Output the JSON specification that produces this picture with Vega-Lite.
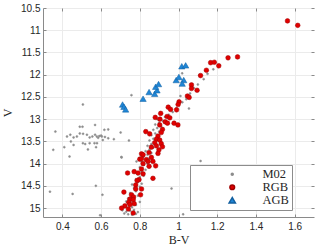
{
  "$schema": "https://vega.github.io/schema/vega-lite/v6.json",
  "width": 271,
  "height": 209,
  "autosize": {"type": "none"},
  "padding": {"left": 43, "top": 8, "right": 3, "bottom": 29},
  "background": "white",
  "config": {
    "view": {"stroke": null},
    "axis": {
      "labelFont": "Liberation Sans",
      "labelFontSize": 10,
      "labelColor": "#262626",
      "titleFont": "Liberation Serif",
      "titleFontSize": 12,
      "titleFontWeight": "normal",
      "titleColor": "#262626",
      "domainColor": "#8a8a8a",
      "tickColor": "#8a8a8a",
      "gridColor": "#ebebeb",
      "tickSize": -3
    }
  },
  "datasets": {
    "pts": [
      {"series":"M02","bv":0.364,"v":13.28},{"series":"M02","bv":0.490,"v":13.17},{"series":"M02","bv":0.504,"v":13.17},{"series":"M02","bv":0.569,"v":13.13},{"series":"M02","bv":0.617,"v":13.24},{"series":"M02","bv":0.637,"v":13.23},{"series":"M02","bv":0.701,"v":13.30},{"series":"M02","bv":0.424,"v":13.39},{"series":"M02","bv":0.441,"v":13.35},{"series":"M02","bv":0.458,"v":13.41},{"series":"M02","bv":0.475,"v":13.39},{"series":"M02","bv":0.490,"v":13.32},{"series":"M02","bv":0.507,"v":13.33},{"series":"M02","bv":0.527,"v":13.35},{"series":"M02","bv":0.541,"v":13.41},{"series":"M02","bv":0.555,"v":13.39},{"series":"M02","bv":0.569,"v":13.35},{"series":"M02","bv":0.578,"v":13.39},{"series":"M02","bv":0.591,"v":13.38},{"series":"M02","bv":0.604,"v":13.39},{"series":"M02","bv":0.609,"v":13.47},{"series":"M02","bv":0.637,"v":13.43},{"series":"M02","bv":0.666,"v":13.45},{"series":"M02","bv":0.444,"v":13.50},{"series":"M02","bv":0.458,"v":13.58},{"series":"M02","bv":0.506,"v":13.54},{"series":"M02","bv":0.518,"v":13.56},{"series":"M02","bv":0.541,"v":13.54},{"series":"M02","bv":0.566,"v":13.54},{"series":"M02","bv":0.579,"v":13.54},{"series":"M02","bv":0.532,"v":13.68},{"series":"M02","bv":0.574,"v":13.63},{"series":"M02","bv":0.410,"v":13.63},{"series":"M02","bv":0.353,"v":13.69},{"series":"M02","bv":0.437,"v":13.84},{"series":"M02","bv":0.705,"v":13.85},{"series":"M02","bv":0.600,"v":13.37},{"series":"M02","bv":0.585,"v":13.42},{"series":"M02","bv":0.620,"v":13.40},
      {"series":"M02","bv":0.336,"v":14.63},{"series":"M02","bv":0.453,"v":14.68},{"series":"M02","bv":0.573,"v":14.50},{"series":"M02","bv":0.607,"v":14.70},{"series":"M02","bv":0.595,"v":15.16},{"series":"M02","bv":0.506,"v":12.67},{"series":"M02","bv":0.757,"v":12.46},{"series":"M02","bv":1.010,"v":12.48},{"series":"M02","bv":1.054,"v":12.76},{"series":"M02","bv":1.019,"v":11.97},{"series":"M02","bv":1.108,"v":12.01},{"series":"M02","bv":1.114,"v":13.94},{"series":"M02","bv":0.964,"v":14.56},{"series":"M02","bv":1.024,"v":15.14},{"series":"M02","bv":0.744,"v":13.48},{"series":"M02","bv":0.706,"v":13.86},{"series":"M02","bv":0.783,"v":13.95},
      {"series":"M02","bv":0.72,"v":15.12},{"series":"M02","bv":0.74,"v":15.14},{"series":"M02","bv":0.76,"v":15.15},{"series":"M02","bv":0.78,"v":15.13},{"series":"M02","bv":0.73,"v":15.08},{"series":"M02","bv":0.75,"v":15.06},{"series":"M02","bv":0.77,"v":15.04},{"series":"M02","bv":0.71,"v":15.05},{"series":"M02","bv":0.79,"v":15.09},{"series":"M02","bv":0.74,"v":15.00},{"series":"M02","bv":0.76,"v":14.98},{"series":"M02","bv":0.72,"v":14.95},{"series":"M02","bv":0.78,"v":14.93},{"series":"M02","bv":0.75,"v":14.88},{"series":"M02","bv":0.73,"v":14.85},{"series":"M02","bv":0.77,"v":14.83},{"series":"M02","bv":0.80,"v":14.86},{"series":"M02","bv":0.74,"v":14.78},{"series":"M02","bv":0.76,"v":14.74},{"series":"M02","bv":0.79,"v":14.72},{"series":"M02","bv":0.75,"v":14.66},{"series":"M02","bv":0.78,"v":14.62},{"series":"M02","bv":0.77,"v":14.55},{"series":"M02","bv":0.80,"v":14.52},{"series":"M02","bv":0.76,"v":14.47},{"series":"M02","bv":0.79,"v":14.42},{"series":"M02","bv":0.81,"v":14.45},{"series":"M02","bv":0.78,"v":14.35},{"series":"M02","bv":0.80,"v":14.30},{"series":"M02","bv":0.82,"v":14.27},{"series":"M02","bv":0.79,"v":14.24},{"series":"M02","bv":0.81,"v":14.17},{"series":"M02","bv":0.83,"v":14.14},{"series":"M02","bv":0.80,"v":14.08},{"series":"M02","bv":0.82,"v":14.03},{"series":"M02","bv":0.84,"v":14.00},{"series":"M02","bv":0.81,"v":13.96},{"series":"M02","bv":0.83,"v":13.92},{"series":"M02","bv":0.85,"v":13.88},{"series":"M02","bv":0.82,"v":13.84},{"series":"M02","bv":0.84,"v":13.80},{"series":"M02","bv":0.86,"v":13.76},{"series":"M02","bv":0.83,"v":13.72},{"series":"M02","bv":0.85,"v":13.68},{"series":"M02","bv":0.87,"v":13.64},{"series":"M02","bv":0.84,"v":13.60},{"series":"M02","bv":0.86,"v":13.56},{"series":"M02","bv":0.88,"v":13.52},{"series":"M02","bv":0.85,"v":13.48},{"series":"M02","bv":0.87,"v":13.44},{"series":"M02","bv":0.89,"v":13.40},{"series":"M02","bv":0.86,"v":13.36},{"series":"M02","bv":0.88,"v":13.32},{"series":"M02","bv":0.90,"v":13.28},{"series":"M02","bv":0.87,"v":13.24},{"series":"M02","bv":0.89,"v":13.20},{"series":"M02","bv":0.91,"v":13.16},{"series":"M02","bv":0.88,"v":13.12},{"series":"M02","bv":0.90,"v":13.08},{"series":"M02","bv":0.92,"v":13.04},{"series":"M02","bv":0.89,"v":13.00},{"series":"M02","bv":0.93,"v":12.95},{"series":"M02","bv":0.95,"v":12.90},{"series":"M02","bv":0.97,"v":12.84},{"series":"M02","bv":0.99,"v":12.75},{"series":"M02","bv":1.02,"v":12.62},{"series":"M02","bv":1.04,"v":12.55},{"series":"M02","bv":1.06,"v":12.42},{"series":"M02","bv":1.08,"v":12.30},{"series":"M02","bv":1.10,"v":12.22},{"series":"M02","bv":1.13,"v":12.10},{"series":"M02","bv":1.15,"v":11.98},{"series":"M02","bv":1.18,"v":11.88},{"series":"M02","bv":1.21,"v":11.78},
      {"series":"RGB","bv":1.563,"v":10.79},{"series":"RGB","bv":1.616,"v":10.89},{"series":"RGB","bv":1.305,"v":11.60},{"series":"RGB","bv":1.256,"v":11.62},{"series":"RGB","bv":1.166,"v":11.73},{"series":"RGB","bv":1.185,"v":11.72},{"series":"RGB","bv":1.208,"v":11.80},{"series":"RGB","bv":1.144,"v":11.90},{"series":"RGB","bv":1.114,"v":12.02},{"series":"RGB","bv":1.067,"v":12.23},{"series":"RGB","bv":1.067,"v":12.31},{"series":"RGB","bv":1.096,"v":12.35},{"series":"RGB","bv":1.046,"v":12.48},{"series":"RGB","bv":1.055,"v":12.51},{"series":"RGB","bv":1.003,"v":12.61},{"series":"RGB","bv":0.998,"v":12.67},{"series":"RGB","bv":0.947,"v":12.73},{"series":"RGB","bv":0.959,"v":12.78},{"series":"RGB","bv":0.908,"v":12.87},{"series":"RGB","bv":0.990,"v":12.79},{"series":"RGB","bv":0.941,"v":12.94},{"series":"RGB","bv":0.955,"v":12.97},{"series":"RGB","bv":0.904,"v":13.00},{"series":"RGB","bv":0.880,"v":12.96},{"series":"RGB","bv":0.931,"v":13.06},{"series":"RGB","bv":0.903,"v":13.13},{"series":"RGB","bv":0.943,"v":13.09},{"series":"RGB","bv":0.977,"v":13.09},{"series":"RGB","bv":0.997,"v":13.13},{"series":"RGB","bv":0.917,"v":13.23},{"series":"RGB","bv":0.911,"v":13.30},{"series":"RGB","bv":0.831,"v":13.28},{"series":"RGB","bv":0.851,"v":13.33},{"series":"RGB","bv":0.894,"v":13.38},{"series":"RGB","bv":0.886,"v":13.45},{"series":"RGB","bv":0.903,"v":13.47},{"series":"RGB","bv":0.877,"v":13.53},{"series":"RGB","bv":0.911,"v":13.55},{"series":"RGB","bv":0.886,"v":13.60},{"series":"RGB","bv":0.917,"v":13.62},{"series":"RGB","bv":0.860,"v":13.63},{"series":"RGB","bv":0.899,"v":13.69},{"series":"RGB","bv":0.894,"v":13.77},{"series":"RGB","bv":0.809,"v":13.78},{"series":"RGB","bv":0.848,"v":13.75},{"series":"RGB","bv":0.860,"v":13.86},{"series":"RGB","bv":0.834,"v":13.91},{"series":"RGB","bv":0.800,"v":13.90},{"series":"RGB","bv":0.817,"v":14.00},{"series":"RGB","bv":0.868,"v":13.95},{"series":"RGB","bv":0.843,"v":13.95},{"series":"RGB","bv":0.882,"v":14.05},{"series":"RGB","bv":0.848,"v":14.06},{"series":"RGB","bv":0.809,"v":14.12},{"series":"RGB","bv":0.771,"v":14.18},{"series":"RGB","bv":0.737,"v":14.21},{"series":"RGB","bv":0.791,"v":14.21},{"series":"RGB","bv":0.817,"v":14.23},{"series":"RGB","bv":0.868,"v":14.33},{"series":"RGB","bv":0.796,"v":14.36},{"series":"RGB","bv":0.786,"v":14.38},{"series":"RGB","bv":0.779,"v":14.48},{"series":"RGB","bv":0.779,"v":14.57},{"series":"RGB","bv":0.809,"v":14.57},{"series":"RGB","bv":0.718,"v":14.64},{"series":"RGB","bv":0.757,"v":14.70},{"series":"RGB","bv":0.768,"v":14.75},{"series":"RGB","bv":0.804,"v":14.70},{"series":"RGB","bv":0.749,"v":14.80},{"series":"RGB","bv":0.766,"v":14.81},{"series":"RGB","bv":0.743,"v":14.87},{"series":"RGB","bv":0.771,"v":14.90},{"series":"RGB","bv":0.723,"v":14.95},{"series":"RGB","bv":0.749,"v":14.92},{"series":"RGB","bv":0.706,"v":15.00},{"series":"RGB","bv":0.741,"v":15.02},{"series":"RGB","bv":0.766,"v":15.11},{"series":"RGB","bv":0.817,"v":13.80},{"series":"RGB","bv":0.809,"v":13.89},
      {"series":"AGB","bv":0.711,"v":12.67},{"series":"AGB","bv":0.718,"v":12.72},{"series":"AGB","bv":0.727,"v":12.78},{"series":"AGB","bv":0.817,"v":12.54},{"series":"AGB","bv":0.848,"v":12.39},{"series":"AGB","bv":0.877,"v":12.43},{"series":"AGB","bv":0.889,"v":12.35},{"series":"AGB","bv":0.882,"v":12.27},{"series":"AGB","bv":0.897,"v":12.21},{"series":"AGB","bv":0.988,"v":12.12},{"series":"AGB","bv":1.002,"v":12.05},{"series":"AGB","bv":1.027,"v":12.12},{"series":"AGB","bv":1.019,"v":12.20},{"series":"AGB","bv":1.017,"v":11.81},{"series":"AGB","bv":1.037,"v":11.79}
    ]
  },
  "data": {"name": "pts"},
  "layer": [
    {
      "mark": {"type": "point", "filled": true, "strokeWidth": 0.5, "opacity": 1},
      "encoding": {
        "x": {"field": "bv", "type": "quantitative", "title": "B-V",
          "scale": {"domain": [0.3, 1.7], "nice": false, "zero": false},
          "axis": {"values": [0.4, 0.6, 0.8, 1, 1.2, 1.4, 1.6], "format": "~g", "grid": true, "labelPadding": 7, "titlePadding": 3}},
        "y": {"field": "v", "type": "quantitative", "title": "V",
          "scale": {"domain": [10.5, 15.2], "nice": false, "zero": false, "reverse": true},
          "axis": {"values": [10.5, 11, 11.5, 12, 12.5, 13, 13.5, 14, 14.5, 15], "format": "~g", "grid": true, "labelPadding": 6, "titlePadding": 6}},
        "color": {"field": "series", "type": "nominal",
          "scale": {"domain": ["M02", "RGB", "AGB"], "range": ["#8c8c8c", "#e00000", "#1f86d6"]},
          "legend": {"title": null, "orient": "none", "legendX": 147, "legendY": 157, "fillColor": "white", "strokeColor": "#8c8c8c", "padding": 3, "symbolOffset": 33, "labelOffset": 24, "labelFont": "Liberation Serif", "labelFontSize": 12.5, "labelColor": "#262626", "rowPadding": 0, "cornerRadius": 0, "labelExpr": "datum.label + '\u00a0\u00a0\u00a0\u00a0\u00a0'"}},
        "shape": {"field": "series", "type": "nominal",
          "scale": {"domain": ["M02", "RGB", "AGB"], "range": ["circle", "circle", "triangle-up"]}},
        "size": {"field": "series", "type": "nominal",
          "scale": {"domain": ["M02", "RGB", "AGB"], "range": [4, 40, 60]}},
        "stroke": {"field": "series", "type": "nominal",
          "scale": {"domain": ["M02", "RGB", "AGB"], "range": ["#8c8c8c", "#a00000", "#125f9f"]}}
      }
    },
    {
      "mark": {"type": "point", "opacity": 0},
      "encoding": {
        "x": {"field": "bv", "type": "quantitative",
          "axis": {"orient": "top", "values": [0.4, 0.6, 0.8, 1, 1.2, 1.4, 1.6], "labels": false, "domain": false, "grid": false, "title": null}},
        "y": {"field": "v", "type": "quantitative",
          "axis": {"orient": "right", "values": [10.5, 11, 11.5, 12, 12.5, 13, 13.5, 14, 14.5, 15], "labels": false, "domain": false, "grid": false, "title": null}}
      }
    }
  ],
  "resolve": {"axis": {"x": "independent", "y": "independent"}}
}
